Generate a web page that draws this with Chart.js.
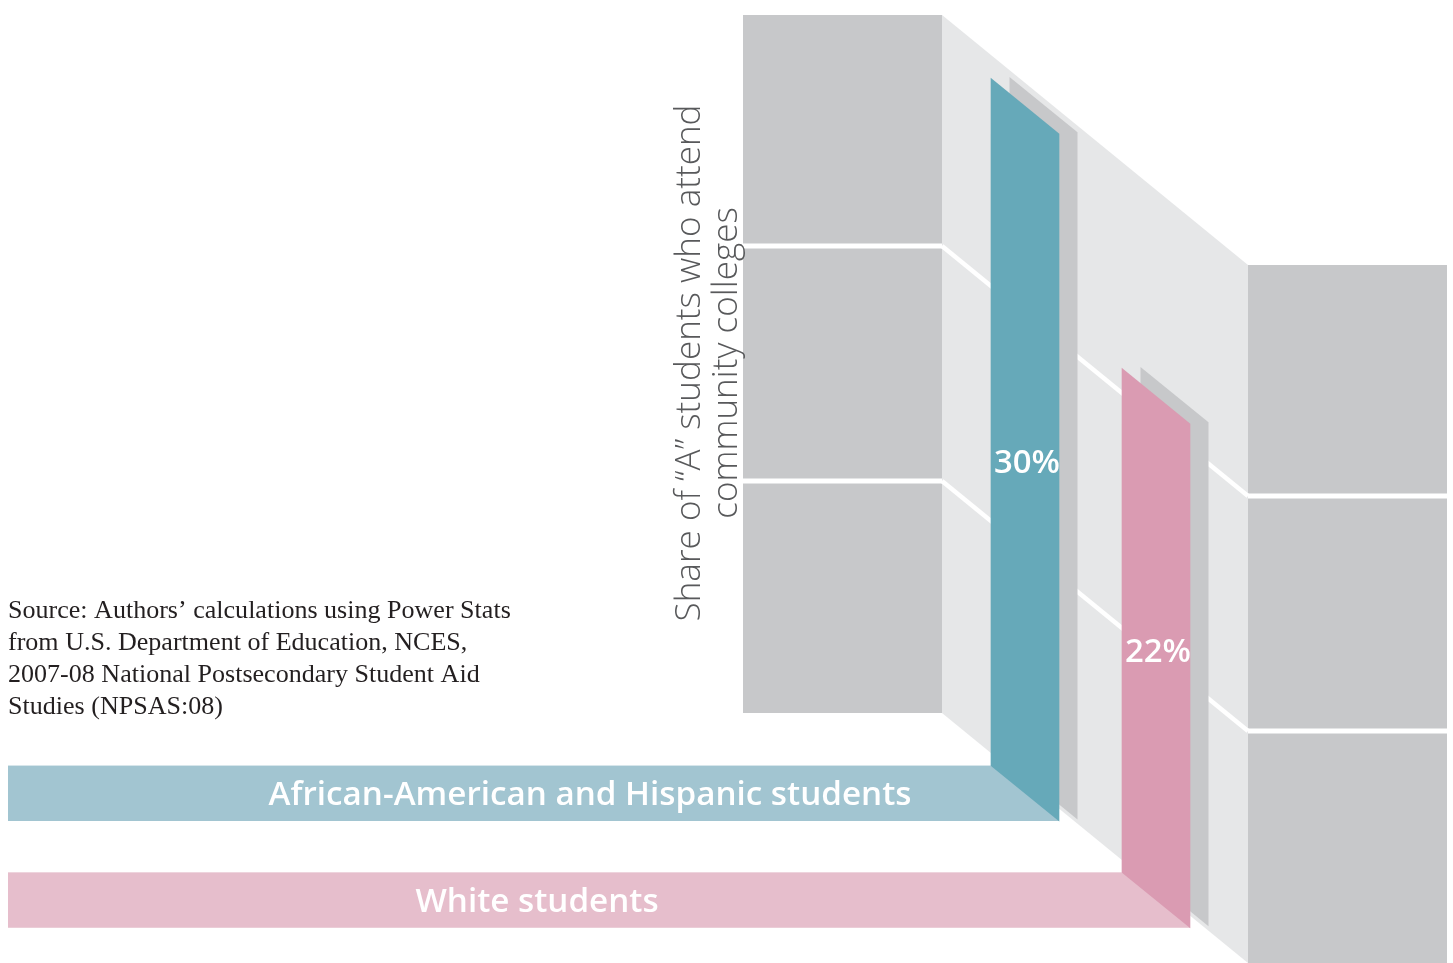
<!DOCTYPE html>
<html>
<head>
<meta charset="utf-8">
<script src="https://cdn.jsdelivr.net/npm/chart.js@4.4.0/dist/chart.umd.min.js"></script>
<style>
  html, body { margin: 0; padding: 0; background: #fff; }
  #wrap { width: 1453px; height: 963px; }
</style>
</head>
<body>
<div id="wrap"><canvas id="chart" width="1453" height="963"></canvas></div>
<script>
// データ
const groups = ['African-American and Hispanic students', 'White students'];
const shares = [30, 22];
const barColors = ['#66a9b9', '#da9bb2'];
const bandColors = ['#a2c5d1', '#e6becc'];
const axisTitle = ['Share of \u201cA\u201d students who attend', 'community colleges'];
const sourceLines = [
  'Source: Authors\u2019 calculations using Power Stats',
  'from U.S. Department of Education, NCES,',
  '2007-08 National Postsecondary Student Aid',
  'Studies (NPSAS:08)',
];

// 遠近感のための傾き
const SLOPE = 0.815;
const PIVOT_X = 1059;
const PANEL = '#c7c8ca';
const WALL = '#e6e7e8';
const SANS = '"Open Sans", sans-serif';

function skewY(x, y) {
  return y + SLOPE * (x - PIVOT_X);
}

// テキスト幅から文字サイズを合わせる
function fitFont(ctx, text, weight, family, targetW) {
  ctx.font = weight + ' 100px ' + family;
  const size = 100 * targetW / ctx.measureText(text).width;
  return weight + ' ' + size.toFixed(2) + 'px ' + family;
}

function drawBackdrop(ctx) {
  // 左のパネル
  ctx.fillStyle = PANEL;
  ctx.fillRect(743, 15, 199, 698);
  // 奥へ伸びる壁
  ctx.fillStyle = WALL;
  ctx.beginPath();
  ctx.moveTo(942, 15);
  ctx.lineTo(1248, 265);
  ctx.lineTo(1248, 963);
  ctx.lineTo(942, 713);
  ctx.closePath();
  ctx.fill();
  // 右のパネル
  ctx.fillStyle = PANEL;
  ctx.fillRect(1248, 265, 199, 698);

  // 白い区切り線
  ctx.fillStyle = '#fff';
  [246, 481].forEach((y) => {
    ctx.fillRect(743, y - 2.5, 199, 5);
    ctx.fillRect(1248, y + 250 - 2.5, 199, 5);
  });
  ctx.strokeStyle = '#fff';
  ctx.lineWidth = 4.5;
  [246, 481].forEach((y) => {
    ctx.beginPath();
    ctx.moveTo(942, y);
    ctx.lineTo(1248, y + 250);
    ctx.stroke();
  });
}

function drawTexts(ctx) {
  // 縦の軸タイトル
  ctx.save();
  ctx.font = fitFont(ctx, axisTitle[0], '300', SANS, 517);
  ctx.translate(700, 363);
  ctx.rotate(-Math.PI / 2);
  ctx.fillStyle = '#58595b';
  ctx.textAlign = 'center';
  ctx.textBaseline = 'alphabetic';
  ctx.fillText(axisTitle[0], 0, 0);
  ctx.fillText(axisTitle[1], 0, 37);
  ctx.restore();

  // 出典
  ctx.font = fitFont(ctx, sourceLines[0], 'normal', '"Liberation Serif", serif', 503);
  ctx.fillStyle = '#231f20';
  ctx.textAlign = 'left';
  ctx.textBaseline = 'alphabetic';
  sourceLines.forEach((line, i) => {
    ctx.fillText(line, 8, 618 + i * 32);
  });
}

const perspectivePlugin = {
  id: 'perspective',
  beforeDraw(chart) {
    const ctx = chart.ctx;
    ctx.save();
    ctx.fillStyle = '#fff';
    ctx.fillRect(0, 0, chart.width, chart.height);
    drawBackdrop(ctx);
    drawTexts(ctx);
    ctx.restore();
  },
  beforeDatasetsDraw(chart) {
    const ctx = chart.ctx;
    const bars = chart.getDatasetMeta(0).data;
    ctx.save();
    // 下の帯（カテゴリ名）
    bars.forEach((bar, i) => {
      const p = bar.getProps(['x', 'base', 'width'], true);
      const left = p.x - p.width / 2;
      const right = p.x + p.width / 2;
      const top = skewY(left, p.base);
      const bottom = skewY(right, p.base);
      ctx.fillStyle = bandColors[i];
      ctx.fillRect(8, top, right - 8, bottom - top);
    });
    ctx.restore();

    // 傾けて描く
    ctx.save();
    ctx.transform(1, SLOPE, 0, 1, 0, -SLOPE * PIVOT_X);
    // 影
    bars.forEach((bar) => {
      const p = bar.getProps(['x', 'y', 'base', 'width'], true);
      const dx = 18.5;
      const dy = -1.5 - SLOPE * dx;
      ctx.fillStyle = PANEL;
      ctx.fillRect(p.x - p.width / 2 + dx, p.y + dy, p.width, p.base - p.y);
    });
  },
  afterDatasetsDraw(chart) {
    const ctx = chart.ctx;
    ctx.restore();
    const bars = chart.getDatasetMeta(0).data;

    ctx.save();
    ctx.fillStyle = '#fff';
    ctx.textAlign = 'center';
    ctx.textBaseline = 'alphabetic';
    // 帯の文字
    ctx.font = fitFont(ctx, groups[0], '600', SANS, 643);
    const bandTextX = [590, 537];
    bars.forEach((bar, i) => {
      const p = bar.getProps(['x', 'base', 'width'], true);
      const bottom = skewY(p.x + p.width / 2, p.base);
      ctx.fillText(groups[i], bandTextX[i], bottom - 16);
    });

    // パーセント表示
    const labelY = [473, 662];
    ctx.font = fitFont(ctx, '30%', '600', SANS, 66);
    bars.forEach((bar, i) => {
      const p = bar.getProps(['x'], true);
      ctx.fillText(shares[i] + '%', p.x + 2, labelY[i]);
    });
    ctx.restore();
  },
};

const ctx = document.getElementById('chart').getContext('2d');
const chart = new Chart(ctx, {
  type: 'bar',
  data: {
    labels: groups,
    datasets: [{
      data: shares,
      backgroundColor: barColors,
      borderWidth: 0,
      barThickness: 68,
      clip: false,
    }],
  },
  options: {
    responsive: false,
    animation: false,
    devicePixelRatio: 1,
    layout: {
      padding: { left: 959.5, right: 231.5, top: 88, bottom: 142 },
    },
    scales: {
      x: { display: false },
      y: { display: false, min: 0, max: 32 },
    },
    plugins: {
      legend: { display: false },
      tooltip: { enabled: false },
    },
  },
  plugins: [perspectivePlugin],
});
</script>
</body>
</html>
